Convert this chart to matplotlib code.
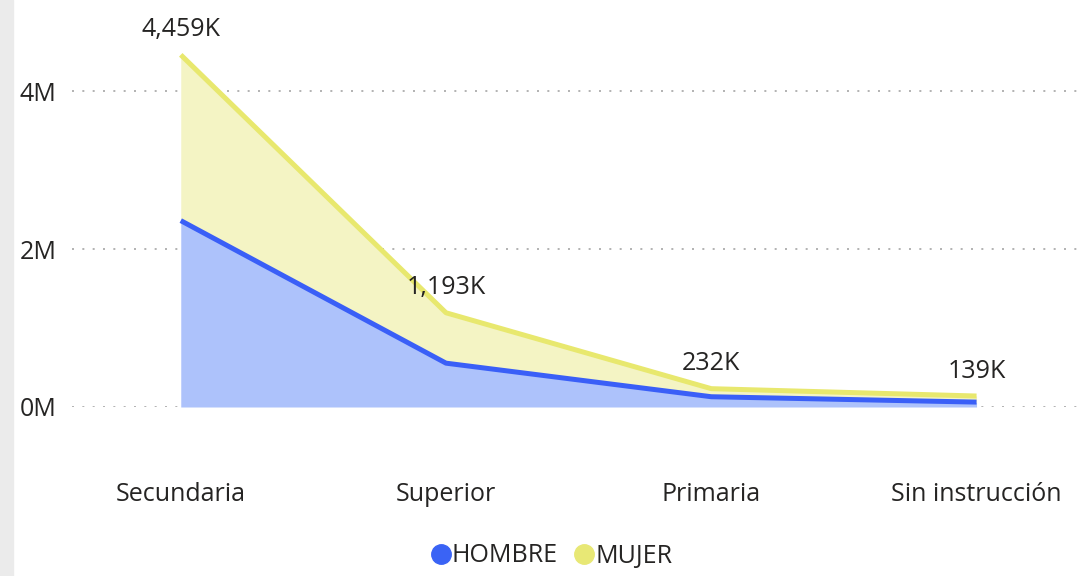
import matplotlib
matplotlib.use('Agg')
import matplotlib.pyplot as plt
from matplotlib.patches import Rectangle
from matplotlib.lines import Line2D
import numpy as np

# values in thousands
categories = ['Secundaria', 'Superior', 'Primaria', 'Sin instrucción']
hombre = [2360, 555, 130, 62]
mujer = [2099, 638, 102, 77]

plt.rcParams['font.family'] = ['Open Sans', 'DejaVu Sans']

blue_line = '#3a5ff7'
blue_fill = '#adc2fb'
yellow_line = '#e8e86e'
yellow_fill = '#f4f4c4'
text_col = '#252423'

x = np.arange(len(categories))
h = np.array(hombre) * 1000
m = np.array(mujer) * 1000
total = h + m

fig = plt.figure(figsize=(10.82, 5.76), dpi=100)
fig.patches.append(Rectangle((0, 0), 13 / 1082, 1, transform=fig.transFigure,
                             color='#ebebeb', zorder=0))
ax = fig.add_axes([72 / 1082, (576 - 407) / 576, (1080 - 72) / 1082, (407 - 20) / 576])

ax.fill_between(x, 0, h, color=blue_fill, linewidth=0, zorder=1)
ax.fill_between(x, h, total, color=yellow_fill, linewidth=0, zorder=1)
ax.plot(x, total, color=yellow_line, linewidth=3.6, solid_capstyle='butt', zorder=3)
ax.plot(x, h, color=blue_line, linewidth=3.6, solid_capstyle='butt', zorder=4)

for xi, t in zip(x, total):
    ax.annotate('{:,.0f}K'.format(t / 1000), (xi, t), xytext=(0, 9),
                textcoords='offset points', ha='center', va='bottom',
                fontsize=18, color=text_col)

ax.set_xlim(-0.41, 3.39)
ax.set_ylim(0, 4.9e6)
ax.set_yticks([0, 2e6, 4e6])
ax.set_yticklabels(['0M', '2M', '4M'])
ax.set_xticks(x)
ax.set_xticklabels(categories)
ax.grid(axis='y', linestyle=(0, (1.2, 5)), color='#a6a6a6', linewidth=1.2)
ax.set_axisbelow(True)
for s in ax.spines.values():
    s.set_visible(False)
ax.tick_params(axis='y', length=0, pad=11, labelsize=18, labelcolor=text_col)
ax.tick_params(axis='x', length=0, pad=54, labelsize=18, labelcolor=text_col)

handles = [Line2D([], [], marker='o', linestyle='', markersize=14, color='#3a63f5'),
           Line2D([], [], marker='o', linestyle='', markersize=14, color='#e8e875')]
fig.legend(handles, ['HOMBRE', 'MUJER'], loc='center', bbox_to_anchor=(551 / 1082, 1 - 556 / 576),
           ncol=2, frameon=False, fontsize=18, handletextpad=0.0, columnspacing=0.6,
           handlelength=0.9, labelcolor=text_col)

fig.savefig('out.png', dpi=100)
